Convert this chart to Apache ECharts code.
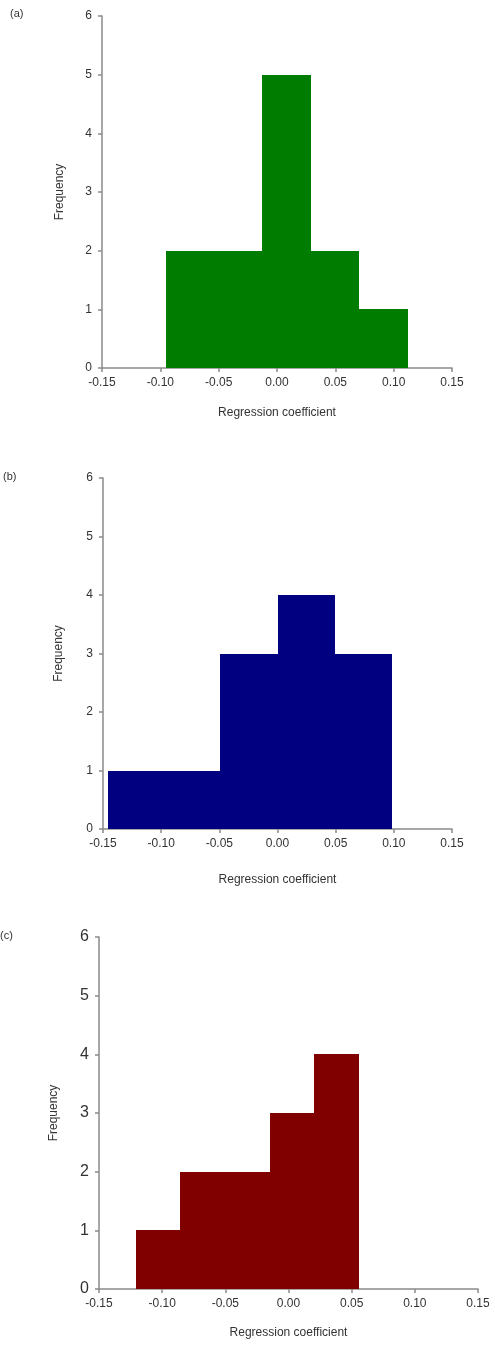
<!DOCTYPE html>
<html>
<head>
<meta charset="utf-8">
<title>Regression coefficient histograms</title>
<script src="https://cdn.jsdelivr.net/npm/echarts@6/dist/echarts.min.js"></script>
<style>
    html, body { margin: 0; padding: 0; background: #fff; }
    #chart { width: 495px; height: 1347px; }
</style>
</head>
<body>
<div id="chart"></div>
<script>
// bin edges and counts
var edgesA = [-0.095, -0.054, -0.013, 0.029, 0.070, 0.112];
var countsA = [2, 2, 5, 2, 1];

var edgesB = [-0.146, -0.097, -0.049, 0.000, 0.049, 0.098];
var countsB = [1, 1, 3, 4, 3];

var edgesC = [-0.121, -0.086, -0.050, -0.015, 0.020, 0.056];
var countsC = [1, 2, 2, 3, 4];

var panelLabels = ['(a)', '(b)', '(c)'];
var colors = ['#007d00', '#000080', '#800000'];
var xTitle = 'Regression coefficient';
var yTitle = 'Frequency';

var myChart = echarts.init(document.getElementById('chart'));

var font = 'Liberation Sans, Arial, sans-serif';
var axisGray = '#8a8a8a';
var textGray = '#333';

// grid boxes in px
var grids = [
    {left: 102, top: 16, right: 43, height: 352},
    {left: 103, top: 478, right: 43, height: 351},
    {left: 99, top: 937, right: 17, height: 352}
];

var binData = function (edges, counts) {
    var out = [];
    for (var i = 0; i < counts.length; i++) {
        out.push([edges[i], edges[i + 1], counts[i]]);
    }
    return out;
};

var renderBin = function (params, api) {
    var p0 = api.coord([api.value(0), api.value(2)]);
    var p1 = api.coord([api.value(1), 0]);
    var x0 = Math.round(p0[0]), x1 = Math.round(p1[0]);
    var y0 = Math.round(p0[1]), y1 = Math.round(p1[1]);
    return {
        type: 'rect',
        shape: {x: x0, y: y0, width: x1 - x0, height: y1 - y0},
        style: {fill: api.visual('color')}
    };
};

var xAxes = [], yAxes = [], series = [], titles;
var yLabelSize = [12, 12, 16];
var xNameGap = [39, 45, 38];
var yNameGap = [36, 38, 39];
var allData = [binData(edgesA, countsA), binData(edgesB, countsB), binData(edgesC, countsC)];

for (var i = 0; i < 3; i++) {
    xAxes.push({
        type: 'value', gridIndex: i,
        min: -0.15, max: 0.15, interval: 0.05,
        name: xTitle, nameLocation: 'middle', nameGap: xNameGap[i],
        nameTextStyle: {fontFamily: font, fontSize: 12, color: textGray},
        axisLine: {onZero: false, lineStyle: {color: axisGray, width: 1.5}},
        axisTick: {show: true, inside: false, length: 4, lineStyle: {color: axisGray, width: 1.5}},
        axisLabel: {
            fontFamily: font, fontSize: 12, color: textGray, margin: 9,
            formatter: function (v) { return v.toFixed(2); }
        },
        splitLine: {show: false}
    });
    yAxes.push({
        type: 'value', gridIndex: i,
        min: 0, max: 6, interval: 1,
        name: yTitle, nameLocation: 'middle', nameGap: yNameGap[i],
        nameTextStyle: {fontFamily: font, fontSize: 12, color: textGray},
        axisLine: {show: true, onZero: false, lineStyle: {color: axisGray, width: 1.5}},
        axisTick: {show: true, inside: false, length: 4, lineStyle: {color: axisGray, width: 1.5}},
        axisLabel: {fontFamily: font, fontSize: yLabelSize[i], color: textGray, margin: 10},
        splitLine: {show: false}
    });
    series.push({
        type: 'custom',
        xAxisIndex: i, yAxisIndex: i,
        color: colors[i],
        renderItem: renderBin,
        encode: {x: [0, 1], y: 2},
        data: allData[i],
        silent: true
    });
}

titles = [
    {text: panelLabels[0], left: 10, top: 8},
    {text: panelLabels[1], left: 3, top: 471},
    {text: panelLabels[2], left: 0, top: 930}
];
titles.forEach(function (t) {
    t.padding = 0;
    t.textStyle = {fontFamily: font, fontSize: 11, fontWeight: 'normal', color: textGray};
});

myChart.setOption({
    backgroundColor: '#fff',
    animation: false,
    title: titles,
    grid: grids,
    xAxis: xAxes,
    yAxis: yAxes,
    series: series
});
</script>
</body>
</html>
